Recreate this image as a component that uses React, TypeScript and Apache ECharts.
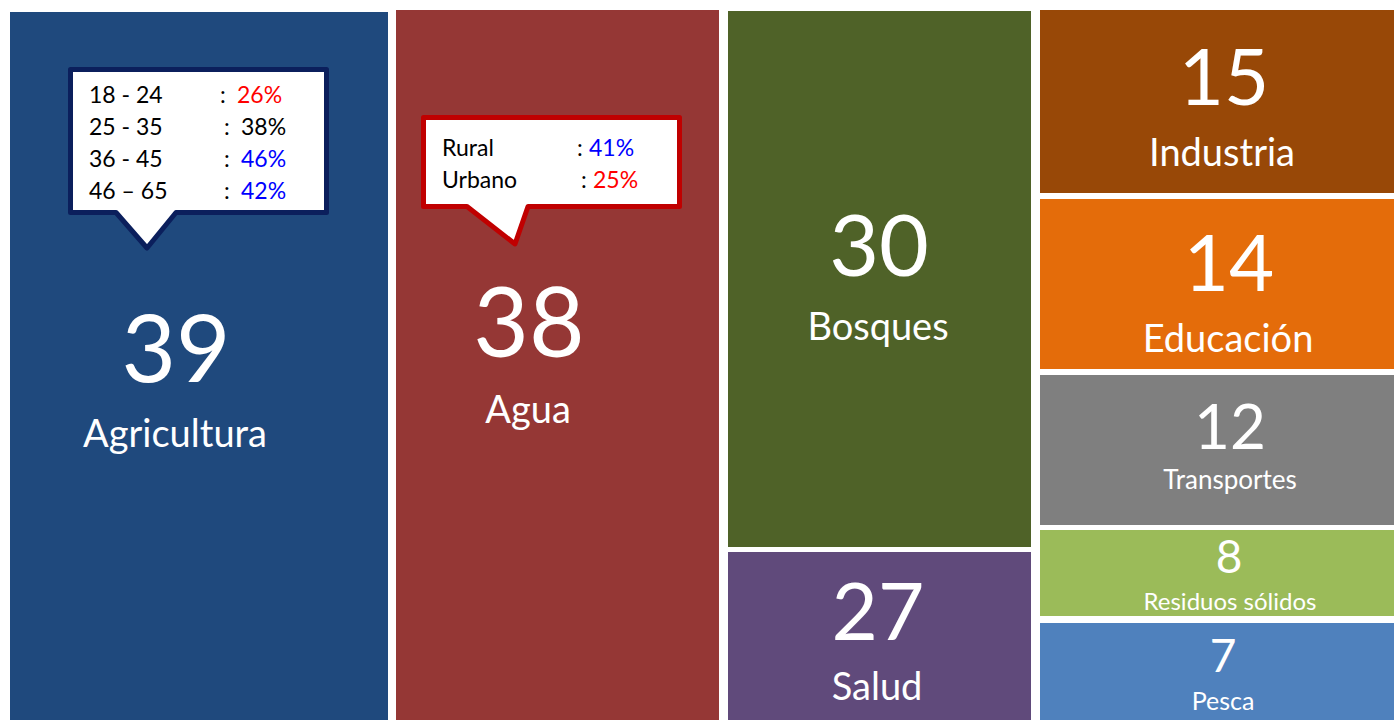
import React, { useEffect, useRef } from "react";
import * as echarts from "echarts";

// ---- data ----
const categories = [
  "Agricultura",
  "Agua",
  "Bosques",
  "Salud",
  "Industria",
  "Educación",
  "Transportes",
  "Residuos sólidos",
  "Pesca",
];
const values = [39, 38, 30, 27, 15, 14, 12, 8, 7];

const ageGroups = ["18 - 24", "25 - 35", "36 - 45", "46 – 65"];
const agePct = ["26%", "38%", "46%", "42%"];
const areaGroups = ["Rural", "Urbano"];
const areaPct = ["41%", "25%"];

// ---- layout (axis units) ----
const colSpans = [
  [0, 378],
  [386, 709],
  [718, 1021],
  [1030, 1384],
];
const cellCol = [0, 1, 2, 2, 3, 3, 3, 3, 3];
const cellRows = [
  [2, 710],
  [0, 710],
  [1, 537],
  [542, 710],
  [0, 183],
  [189, 359],
  [365, 515],
  [520, 606],
  [613, 710],
];

// ---- styles ----
const colors = ["#1F497D", "#953735", "#4F6228", "#604A7B", "#984807", "#E46C0A", "#7F7F7F", "#9BBB59", "#4F81BD"];
const numSize = [94, 96, 86, 80, 78, 78, 62, 46, 46];
const nameSize = [38, 38, 38, 38, 38, 38, 26, 24, 25];
const numOff = [
  [166, 333], [133, 309], [151, 231], [150, 57], [184, 65], [189, 62], [190, 50], [189, 25], [183, 31],
];
const nameOff = [
  [165, 420], [132, 398], [150, 314], [149, 133], [182, 141], [188, 138], [190, 104], [190, 70], [183, 77],
];
const ageColors = ["#FF0000", "#000000", "#0000FF", "#0000FF"];
const areaColors = ["#0000FF", "#FF0000"];
const FONT = "Lato, 'Open Sans', sans-serif";
const CALLOUT_SIZE = 23;

export default function App() {
  const ref = useRef<HTMLDivElement>(null);
  useEffect(() => {
    document.body.style.margin = "0";
    if (!ref.current) return;
    const chart = echarts.init(ref.current, undefined, { renderer: "svg" });

    const data = categories.map((name, i) => ({
      name,
      value: [colSpans[cellCol[i]][0], colSpans[cellCol[i]][1], cellRows[i][0], cellRows[i][1], values[i]],
    }));

    const txt = (x: number, y: number, text: string, size: number, fill: string, align = "left") => ({
      type: "text",
      x,
      y,
      style: {
        text,
        fill,
        fontSize: size,
        fontFamily: FONT,
        textAlign: align,
        align,
        textVerticalAlign: "middle",
        verticalAlign: "middle",
      },
    });

    const graphic: any[] = [];
    // Agricultura callout
    graphic.push({
      type: "polygon",
      shape: {
        points: [
          [70.5, 69.5], [326.5, 69.5], [326.5, 212.5], [176, 212.5], [147, 248], [116, 212.5], [70.5, 212.5],
        ],
      },
      style: { fill: "#FFFFFF", stroke: "#0B1F5C", lineWidth: 5, lineJoin: "round" },
      z: 10,
    });
    ageGroups.forEach((g, k) => {
      const y = 94 + k * 32;
      graphic.push({ ...txt(89, y, g, CALLOUT_SIZE, "#000000"), z: 11 });
      graphic.push({ ...txt(k === 0 ? 220 : 224, y, ":", CALLOUT_SIZE, "#000000"), z: 11 });
      graphic.push({ ...txt(k === 0 ? 237 : 241, y, agePct[k], CALLOUT_SIZE, ageColors[k]), z: 11 });
    });
    // Agua callout
    graphic.push({
      type: "polygon",
      shape: {
        points: [
          [423.5, 117.5], [679.5, 117.5], [679.5, 206.5], [528, 206.5], [515, 244], [467, 206.5], [423.5, 206.5],
        ],
      },
      style: { fill: "#FFFFFF", stroke: "#C00000", lineWidth: 5, lineJoin: "round" },
      z: 10,
    });
    areaGroups.forEach((g, k) => {
      const y = 147 + k * 32;
      graphic.push({ ...txt(442, y, g, CALLOUT_SIZE, "#000000"), z: 11 });
      graphic.push({ ...txt(k === 0 ? 577 : 581, y, ":", CALLOUT_SIZE, "#000000"), z: 11 });
      graphic.push({ ...txt(k === 0 ? 589 : 593, y, areaPct[k], CALLOUT_SIZE, areaColors[k]), z: 11 });
    });

    chart.setOption({
      animation: false,
      backgroundColor: "#FFFFFF",
      grid: { left: 10, right: 0, top: 10, bottom: 0 },
      xAxis: { type: "value", min: 0, max: 1384, show: false },
      yAxis: { type: "value", min: 0, max: 710, inverse: true, show: false },
      graphic,
      series: [
        {
          type: "custom",
          data,
          encode: { x: [0, 1], y: [2, 3] },
          renderItem: (params: any, api: any) => {
            const i = params.dataIndex;
            const p0 = api.coord([api.value(0), api.value(2)]);
            const p1 = api.coord([api.value(1), api.value(3)]);
            const x = p0[0];
            const y = p0[1];
            const w = p1[0] - p0[0];
            const h = p1[1] - p0[1];
            return {
              type: "group",
              children: [
                { type: "rect", shape: { x, y, width: w, height: h }, style: { fill: colors[i] } },
                txt(x + numOff[i][0], y + numOff[i][1], String(api.value(4)), numSize[i], "#FFFFFF", "center"),
                txt(x + nameOff[i][0], y + nameOff[i][1], categories[i], nameSize[i], "#FFFFFF", "center"),
              ],
            };
          },
        },
      ],
    });
    return () => chart.dispose();
  }, []);
  return <div ref={ref} style={{ width: 1394, height: 720 }} />;
}
